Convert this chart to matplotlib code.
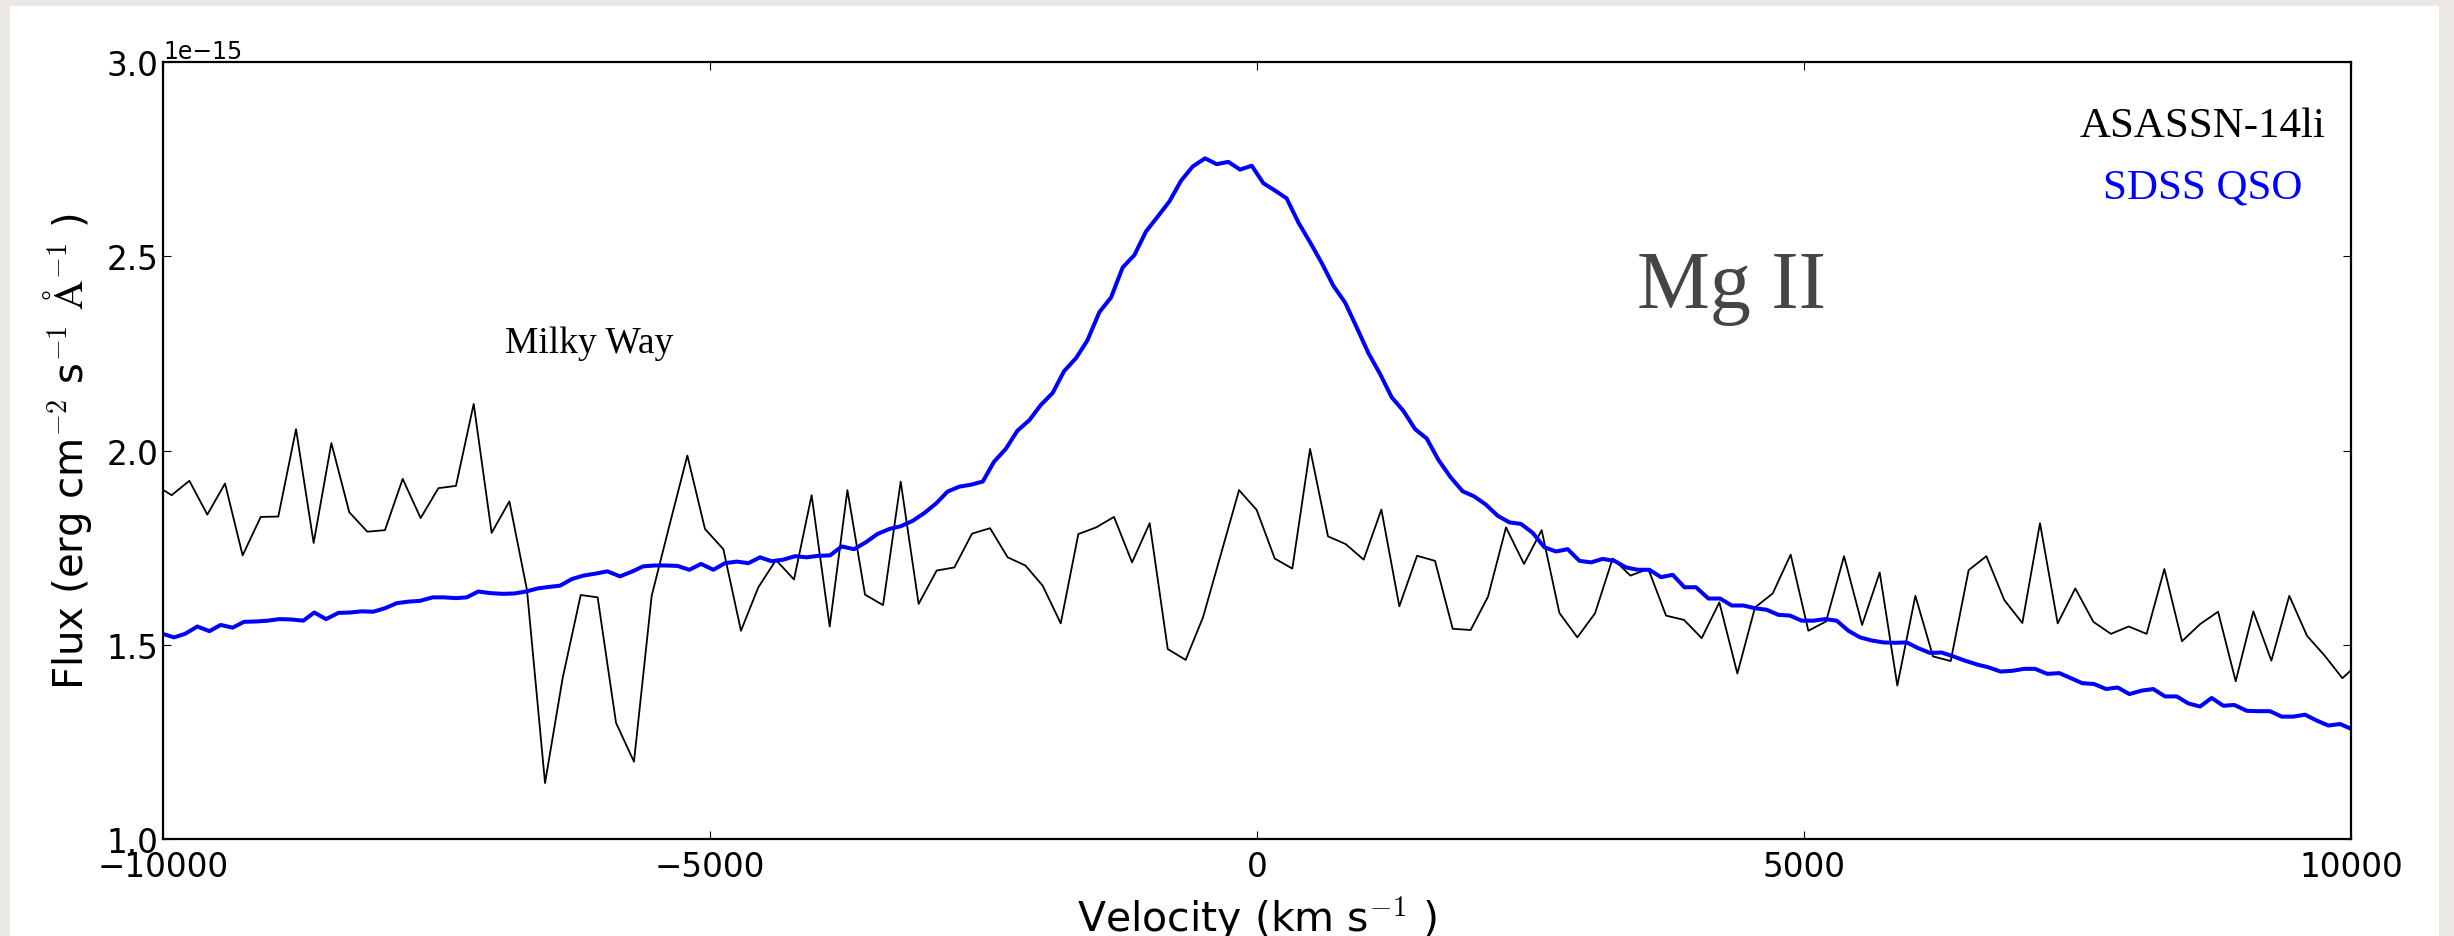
import matplotlib
matplotlib.use("Agg")
import matplotlib.pyplot as plt
from matplotlib.patches import Rectangle
import numpy as np

# ---------------------------------------------------------------------------
# data (flux in units of 1e-15 erg/cm2/s/A)
# ---------------------------------------------------------------------------
ASASSN_V = [
    -10082, -9921, -9759, -9595, -9433, -9272, -9107, -8946, -8784, -8623,
    -8461, -8297, -8132, -7971, -7809, -7645, -7483, -7322, -7160, -6996,
    -6834, -6673, -6508, -6347, -6182, -6027, -5859, -5695, -5533, -5372,
    -5207, -5046, -4878, -4717, -4558, -4397, -4232, -4071, -3906, -3744,
    -3583, -3418, -3257, -3093, -2928, -2766, -2605, -2440, -2279, -2117,
    -1959, -1794, -1633, -1471, -1307, -1142, -981, -816, -652, -493,
    -329, -164, -3, 162, 323, 485, 649, 811, 975, 1137,
    1301, 1463, 1627, 1789, 1953, 2112, 2276, 2441, 2602, 2764,
    2928, 3090, 3251, 3413, 3577, 3739, 3903, 4065, 4226, 4391,
    4552, 4714, 4878, 5040, 5202, 5366, 5531, 5692, 5853, 6018,
    6179, 6341, 6505, 6667, 6831, 6996, 7157, 7319, 7480, 7645,
    7806, 7968, 8132, 8294, 8455, 8620, 8785, 8946, 9107, 9272,
    9436, 9598, 9759, 9921, 10083,
]
ASASSN_F = [
    1.913, 1.885, 1.922, 1.835, 1.915, 1.730, 1.829, 1.830, 2.055, 1.762,
    2.019, 1.841, 1.791, 1.795, 1.927, 1.826, 1.903, 1.909, 2.120, 1.788,
    1.869, 1.641, 1.144, 1.414, 1.628, 1.622, 1.299, 1.199, 1.626, 1.806,
    1.987, 1.798, 1.746, 1.536, 1.648, 1.718, 1.668, 1.885, 1.547, 1.898,
    1.629, 1.602, 1.920, 1.605, 1.691, 1.699, 1.786, 1.800, 1.725, 1.704,
    1.652, 1.555, 1.785, 1.802, 1.829, 1.712, 1.813, 1.489, 1.461, 1.571,
    1.734, 1.898, 1.847, 1.722, 1.696, 2.004, 1.779, 1.759, 1.719, 1.848,
    1.599, 1.729, 1.716, 1.541, 1.538, 1.624, 1.802, 1.708, 1.795, 1.582,
    1.519, 1.581, 1.722, 1.678, 1.695, 1.575, 1.564, 1.517, 1.609, 1.426,
    1.596, 1.632, 1.732, 1.536, 1.560, 1.728, 1.551, 1.686, 1.395, 1.626,
    1.470, 1.458, 1.692, 1.728, 1.615, 1.556, 1.813, 1.555, 1.645, 1.559,
    1.528, 1.547, 1.528, 1.695, 1.509, 1.553, 1.585, 1.406, 1.586, 1.459,
    1.626, 1.523, 1.472, 1.414, 1.455,
]

QSO_V = [
    -10003, -9899, -9799, -9686, -9576, -9473, -9363, -9260, -9144, -9043,
    -8937, -8824, -8717, -8617, -8510, -8397, -8291, -8184, -8077, -7971,
    -7864, -7757, -7651, -7535, -7431, -7322, -7224, -7118, -7011, -6895,
    -6788, -6682, -6575, -6469, -6371, -6264, -6158, -6048, -5938, -5823,
    -5716, -5609, -5503, -5396, -5298, -5189, -5082, -4969, -4863, -4756,
    -4649, -4543, -4436, -4330, -4223, -4116, -4010, -3903, -3796, -3684,
    -3574, -3470, -3361, -3257, -3147, -3041, -2928, -2830, -2721, -2614,
    -2507, -2404, -2294, -2190, -2081, -1977, -1868, -1764, -1654, -1551,
    -1441, -1334, -1228, -1121, -1014, -908, -801, -695, -588, -475,
    -368, -262, -155, -48, 58, 165, 271, 378, 485, 591,
    698, 805, 911, 1018, 1125, 1231, 1338, 1445, 1551, 1658,
    1770, 1880, 1984, 2091, 2200, 2307, 2413, 2520, 2627, 2733,
    2840, 2947, 3053, 3160, 3267, 3373, 3480, 3587, 3693, 3800,
    3907, 4013, 4126, 4233, 4339, 4446, 4552, 4659, 4766, 4872,
    4979, 5086, 5192, 5299, 5406, 5512, 5619, 5726, 5832, 5939,
    6045, 6152, 6258, 6365, 6472, 6584, 6685, 6798, 6904, 7011,
    7112, 7224, 7334, 7438, 7544, 7651, 7761, 7867, 7974, 8087,
    8193, 8300, 8407, 8513, 8620, 8726, 8833, 8934, 9047, 9153,
    9260, 9366, 9473, 9580, 9686, 9793, 9900, 10006,
]
QSO_F = [
    1.528, 1.519, 1.528, 1.547, 1.535, 1.551, 1.544, 1.559, 1.560, 1.562,
    1.566, 1.565, 1.562, 1.583, 1.566, 1.582, 1.583, 1.586, 1.585, 1.594,
    1.607, 1.611, 1.613, 1.622, 1.622, 1.620, 1.622, 1.637, 1.633, 1.631,
    1.632, 1.637, 1.645, 1.649, 1.652, 1.669, 1.678, 1.683, 1.689, 1.676,
    1.688, 1.702, 1.704, 1.704, 1.703, 1.693, 1.708, 1.693, 1.710, 1.714,
    1.710, 1.725, 1.715, 1.719, 1.728, 1.725, 1.729, 1.730, 1.753, 1.746,
    1.764, 1.785, 1.798, 1.805, 1.819, 1.839, 1.865, 1.894, 1.907, 1.912,
    1.920, 1.971, 2.005, 2.051, 2.078, 2.117, 2.148, 2.204, 2.238, 2.283,
    2.356, 2.394, 2.471, 2.503, 2.564, 2.602, 2.641, 2.694, 2.731, 2.752,
    2.737, 2.743, 2.723, 2.733, 2.688, 2.669, 2.649, 2.587, 2.536, 2.483,
    2.424, 2.381, 2.317, 2.251, 2.197, 2.137, 2.102, 2.055, 2.031, 1.976,
    1.931, 1.895, 1.882, 1.861, 1.832, 1.815, 1.811, 1.788, 1.751, 1.740,
    1.746, 1.716, 1.712, 1.721, 1.716, 1.699, 1.693, 1.693, 1.674, 1.680,
    1.648, 1.648, 1.619, 1.619, 1.601, 1.601, 1.594, 1.590, 1.577, 1.575,
    1.562, 1.562, 1.566, 1.562, 1.536, 1.519, 1.511, 1.506, 1.505, 1.506,
    1.491, 1.479, 1.480, 1.470, 1.459, 1.449, 1.442, 1.431, 1.433, 1.438,
    1.438, 1.425, 1.427, 1.414, 1.401, 1.399, 1.386, 1.390, 1.373, 1.382,
    1.386, 1.367, 1.367, 1.349, 1.341, 1.363, 1.343, 1.345, 1.330, 1.329,
    1.329, 1.315, 1.315, 1.320, 1.305, 1.292, 1.296, 1.283,
]

FLUX_UNIT = 1e-15
X_TICKS = [-10000, -5000, 0, 5000, 10000]
Y_TICKS = [1.0, 1.5, 2.0, 2.5, 3.0]

SERIF = ["Liberation Serif", "DejaVu Serif"]

plt.rcParams["mathtext.fontset"] = "cm"
plt.rcParams["font.family"] = ["DejaVu Sans"]

fig = plt.figure(figsize=(24.54, 9.37), dpi=100)
fig.patch.set_facecolor("#ebe8e3")
# white "page" sitting on the beige slide background
fig.add_artist(Rectangle((10 / 2454, 0), 2429 / 2454, 930 / 937,
                         transform=fig.transFigure, facecolor="white",
                         edgecolor="none", zorder=-5))

ax = fig.add_axes([163 / 2454, 97 / 937, 2188 / 2454, 777 / 937])

ax.plot(ASASSN_V, np.array(ASASSN_F) * FLUX_UNIT, color="black", lw=1.3)
ax.plot(QSO_V, np.array(QSO_F) * FLUX_UNIT, color="#0000ff", lw=2.9)

ax.set_xlim(-10000, 10000)
ax.set_ylim(1.0 * FLUX_UNIT, 3.0 * FLUX_UNIT)
ax.set_xticks(X_TICKS)
ax.set_yticks([t * FLUX_UNIT for t in Y_TICKS])

ax.tick_params(which="both", direction="in", top=True, right=True,
               length=6, width=0.8, labelsize=23.5)
ax.tick_params(axis="x", pad=8)
ax.tick_params(axis="y", pad=3.5)
ax.yaxis.get_offset_text().set_fontsize(17)
for sp in ax.spines.values():
    sp.set_linewidth(1.6)

ax.set_xlabel(r"Velocity (km s$^{-1}$ )", fontsize=29.5, va="baseline")
ax.xaxis.set_label_coords(0.5, -0.1184)
ax.set_ylabel(r"Flux (erg cm$^{-2}$ s$^{-1}$ $\mathrm{\AA}^{-1}$ )",
              fontsize=29, va="baseline")
ax.yaxis.set_label_coords(-0.0366, 0.5)

# annotations
ax.text(-6106, 2.254 * FLUX_UNIT, "Milky Way", family=SERIF, fontsize=27,
        ha="center", va="baseline")
ax.text(4333, 2.369 * FLUX_UNIT, "Mg II", family=SERIF, fontsize=59,
        color="#454545", ha="center", va="baseline")
ax.text(0.9324, 0.905, "ASASSN-14li", family=SERIF, fontsize=31,
        color="black", ha="center", va="baseline", transform=ax.transAxes)
ax.text(0.9324, 0.826, "SDSS QSO", family=SERIF, fontsize=31,
        color="#0000ff", ha="center", va="baseline", transform=ax.transAxes)

fig.savefig("out.png", dpi=100, facecolor=fig.get_facecolor())
